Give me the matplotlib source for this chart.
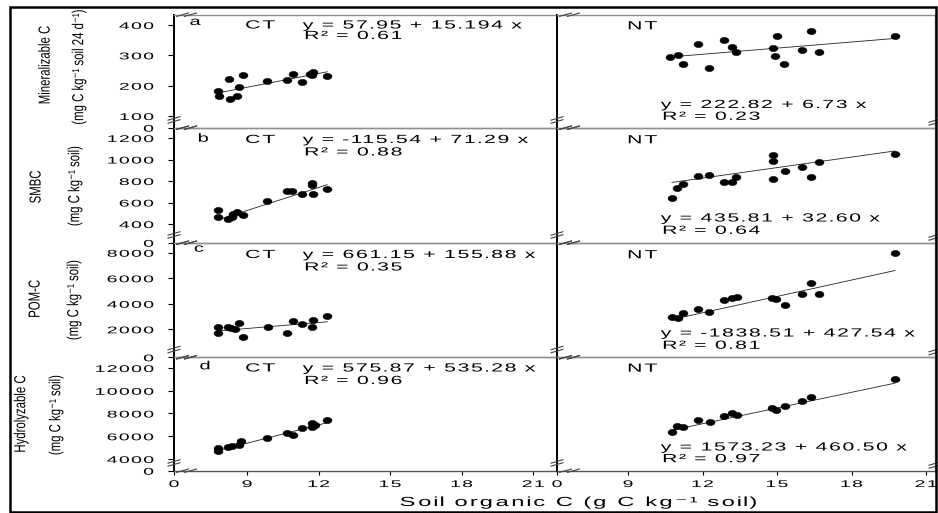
import numpy as np
import matplotlib
matplotlib.use("Agg")
import matplotlib.pyplot as plt
from matplotlib.path import Path
from matplotlib.patheffects import AbstractPathEffect
from matplotlib.lines import Line2D
from matplotlib.patches import Rectangle

plt.rcParams["font.family"] = ["Liberation Sans", "DejaVu Sans"]

# ---------------- data ----------------
# Mineralizable C (mg C kg-1 soil 24 d-1)
min_ct_x = [7.78, 7.82, 8.24, 8.83, 8.29, 8.58, 8.66, 9.84, 10.68, 10.93, 11.31, 11.65, 11.77, 11.73, 12.36]
min_ct_y = [182, 166, 222, 235, 156, 166, 196, 215, 219, 238, 212, 238, 245, 235, 232]
min_nt_x = [10.69, 11.01, 11.22, 11.82, 12.26, 12.87, 13.19, 13.35, 14.84, 15.00, 14.92, 15.28, 16.01, 16.37, 16.69, 19.75]
min_nt_y = [294, 301, 271, 337, 258, 351, 327, 311, 324, 364, 298, 271, 318, 380, 311, 364]

# SMBC (mg C kg-1 soil)
smbc_ct_x = [7.78, 7.78, 8.20, 8.37, 8.41, 8.58, 8.83, 9.84, 10.68, 10.89, 11.31, 11.73, 11.73, 11.77, 12.36]
smbc_ct_y = [530, 465, 447, 465, 493, 512, 484, 614, 707, 707, 679, 781, 763, 679, 726]
smbc_nt_x = [10.77, 10.97, 11.22, 11.82, 12.26, 12.87, 13.19, 13.35, 14.84, 14.84, 14.84, 15.32, 16.01, 16.37, 16.69, 19.75]
smbc_nt_y = [642, 735, 772, 847, 856, 791, 791, 837, 1042, 986, 819, 893, 930, 837, 977, 1051]

# POM-C (mg C kg-1 soil)
pom_ct_x = [7.78, 7.78, 8.20, 8.33, 8.50, 8.66, 8.83, 9.88, 10.68, 10.93, 11.31, 11.73, 11.77, 12.36]
pom_ct_y = [2180, 1710, 2180, 2102, 2024, 2494, 1394, 2180, 1710, 2651, 2416, 2180, 2729, 3042]
pom_nt_x = [10.77, 11.01, 11.22, 11.82, 12.26, 12.87, 13.19, 13.39, 14.80, 14.96, 15.32, 16.01, 16.37, 16.69, 19.75]
pom_nt_y = [2963, 2885, 3276, 3590, 3355, 4295, 4452, 4530, 4452, 4374, 3904, 4765, 5627, 4765, 8000]

# Hydrolyzable C (mg C kg-1 soil)
hyd_ct_x = [7.78, 7.78, 8.20, 8.37, 8.66, 8.75, 9.84, 10.68, 10.93, 11.31, 11.73, 11.73, 11.86, 12.36]
hyd_ct_y = [4967, 4703, 5055, 5143, 5231, 5582, 5846, 6286, 6110, 6725, 7165, 6813, 6989, 7429]
hyd_nt_x = [10.77, 10.97, 11.22, 11.82, 12.30, 12.87, 13.19, 13.39, 14.80, 14.96, 15.32, 16.01, 16.37, 19.75]
hyd_nt_y = [6374, 6901, 6813, 7429, 7253, 7780, 8044, 7868, 8484, 8308, 8659, 9099, 9451, 11033]

# linear fits: y = intercept + slope * x
ct_intercepts = [57.95, -115.54, 661.15, 575.87]
ct_slopes = [15.194, 71.29, 155.88, 535.28]
ct_r2 = [0.61, 0.88, 0.35, 0.96]
nt_intercepts = [222.82, 435.81, -1838.51, 1573.23]
nt_slopes = [6.73, 32.60, 427.54, 460.50]
nt_r2 = [0.23, 0.64, 0.81, 0.97]

panel_letters = ["a", "b", "c", "d"]
var_names = ["Mineralizable C", "SMBC", "POM-C", "Hydrolyzable C"]
var_units = ["(mg C kg\u207b\u00b9 soil 24 d\u207b\u00b9)", "(mg C kg\u207b\u00b9 soil)",
             "(mg C kg\u207b\u00b9 soil)", "(mg C kg\u207b\u00b9 soil)"]
row_yticks = [[100, 200, 300, 400], [400, 600, 800, 1000, 1200],
              [2000, 4000, 6000, 8000], [4000, 6000, 8000, 10000, 12000]]
row_ylims = [(61.4, 434), (226, 1296), (-193, 8783), (2971, 12941)]
x_ticks = [9, 12, 15, 18, 21]
col_xlims = [(5.93, 22.0), (6.14, 21.36)]
x_label = "Soil organic C (g C kg\u207b\u00b9 soil)"

ct_series = [(min_ct_x, min_ct_y), (smbc_ct_x, smbc_ct_y), (pom_ct_x, pom_ct_y), (hyd_ct_x, hyd_ct_y)]
nt_series = [(min_nt_x, min_nt_y), (smbc_nt_x, smbc_nt_y), (pom_nt_x, pom_nt_y), (hyd_nt_x, hyd_nt_y)]


# ---------------- helpers ----------------
class Spread(AbstractPathEffect):
    """Draw text with glyphs widened by g, glyph spacing widened by k,
    and glyph height scaled by sy."""

    def __init__(self, k=1.0, g=1.0, anchor="left", sy=1.0):
        super().__init__()
        self.k, self.g, self.anchor, self.sy = k, g, anchor, sy

    def draw_path(self, renderer, gc, tpath, affine, rgbFace=None):
        verts = np.array(tpath.vertices, dtype=float)
        codes = tpath.codes
        if codes is None or len(verts) == 0:
            renderer.draw_path(gc, tpath, affine, rgbFace)
            return
        real = codes != Path.CLOSEPOLY
        starts = np.flatnonzero(codes == Path.MOVETO)
        ends = np.append(starts[1:], len(verts))
        boxes = []
        for s, e in zip(starts, ends):
            m = real[s:e]
            xs = verts[s:e, 0][m]
            boxes.append((xs.min(), xs.max()))
        order = sorted(range(len(boxes)), key=lambda i: boxes[i][0])
        groups = []
        for i in order:
            lo, hi = boxes[i]
            if groups:
                glo, ghi, mem = groups[-1]
                ov = min(hi, ghi) - max(lo, glo)
                if ov > 0.3 * max(min(hi - lo, ghi - glo), 1e-9):
                    groups[-1] = (min(lo, glo), max(hi, ghi), mem + [i])
                    continue
            groups.append((lo, hi, [i]))
        rv = verts[real]
        xlo, xhi = rv[:, 0].min(), rv[:, 0].max()
        pivot = {"left": 0.0, "center": 0.5 * (xlo + xhi), "right": xhi}[self.anchor]
        out = verts.copy()
        for lo, hi, mem in groups:
            c = 0.5 * (lo + hi)
            nc = pivot + (c - pivot) * self.k
            for i in mem:
                s, e = starts[i], ends[i]
                out[s:e, 0] = nc + (verts[s:e, 0] - c) * self.g
        if self.sy != 1.0:
            cy = 0.5 * (rv[:, 1].min() + rv[:, 1].max())
            out[:, 1] = cy + (verts[:, 1] - cy) * self.sy
        renderer.draw_path(gc, Path(out, codes), affine, rgbFace)


W, H = 938, 513


def P(x, y):
    return x / W, 1 - y / H


def fmt(v):
    s = f"{v:.3f}".rstrip("0")
    dec = len(s.split(".")[1]) if "." in s else 0
    return f"{v:.{max(dec, 2)}f}"


def eq_text(a, b):
    return f"y = {fmt(a)} + {fmt(b)} x"


fig = plt.figure(figsize=(W / 100, H / 100), dpi=100)

col_px = [(174, 557), (557, 935)]
row_px = [(14.7, 127.7), (127.7, 242.7), (242.7, 357.3), (357.3, 470.7)]
grey = "#8f8f8f"
text_fx = [Spread(2.05, 1.8)]
tick_fx_y = [Spread(2.25, 2.0, "right")]
tick_fx_x = [Spread(2.25, 2.0, "center")]

marker_path = Path.unit_circle().transformed(matplotlib.transforms.Affine2D().scale(1.45, 1.0))

for r in range(4):
    y0, y1 = row_px[r]
    for c in range(2):
        x0, x1 = col_px[c]
        ax = fig.add_axes([x0 / W, 1 - y1 / H, (x1 - x0) / W, (y1 - y0) / H])
        ax.set_xlim(*col_xlims[c])
        ax.set_ylim(*row_ylims[r])
        ax.patch.set_alpha(0)

        xs, ys = (ct_series if c == 0 else nt_series)[r]
        a = (ct_intercepts if c == 0 else nt_intercepts)[r]
        b = (ct_slopes if c == 0 else nt_slopes)[r]
        ax.plot(xs, ys, linestyle="none", marker=marker_path, markersize=6.4,
                markeredgewidth=0.4, color="black", zorder=3)
        xl = np.array([min(xs), max(xs)])
        ax.plot(xl, a + b * xl, color="#222222", linewidth=0.6, zorder=2)

        ax.spines["left"].set(color="black", linewidth=1.4)
        ax.spines["top"].set(color=grey, linewidth=1.0)
        ax.spines["bottom"].set(color=("#555555" if r == 3 else grey), linewidth=1.0)
        ax.spines["right"].set(color=grey, linewidth=1.0, visible=(c == 1))

        if c == 0:
            lo = row_ylims[r][0]
            ax.set_yticks([lo] + row_yticks[r], ["0"] + [str(t) for t in row_yticks[r]])
            ax.tick_params(axis="y", direction="out", length=4.3, width=0.8,
                           pad=10, labelsize=7, colors="black")
            for t in ax.get_yticklabels():
                t.set_path_effects(tick_fx_y)
        else:
            ax.set_yticks([])

        if r == 3:
            lo = col_xlims[c][0]
            ax.set_xticks([lo] + x_ticks, ["0"] + [str(t) for t in x_ticks])
            ax.tick_params(axis="x", direction="out", length=3, width=0.8,
                           pad=3, labelsize=7, colors="black")
            for t in ax.get_xticklabels():
                t.set_path_effects(tick_fx_x)
        else:
            ax.set_xticks([])

# ---------------- axis break marks ----------------
def seg(xa, ya, xb, yb):
    (fa, ga), (fb, gb) = P(xa, ya), P(xb, yb)
    fig.add_artist(Line2D([fa, fb], [ga, gb], transform=fig.transFigure,
                          color="#444444", linewidth=0.8, zorder=10))


def hbreak(xc, yc):
    seg(xc - 10, yc + 1.7, xc + 2, yc - 1.7)
    seg(xc - 2, yc + 1.7, xc + 10, yc - 1.7)


def vbreak(xc, yc):
    seg(xc - 6, yc + 0.5, xc + 6, yc - 3)
    seg(xc - 6, yc + 3.5, xc + 6, yc)


for r in range(4):
    y0, y1 = row_px[r]
    for c in range(2):
        xs_ = col_px[c][0]
        hbreak(xs_ + 12.5, y0)
        hbreak(xs_ + 12.5, y1)
        vbreak(xs_, y1 - 8)
    vbreak(935, y1 - 6)

# ---------------- annotations ----------------
letter_xy = [(192, 25), (200, 141.7), (196, 251.7), (201.7, 369.3)]
ct_base = [28.5, 143, 258, 371.5]
ct_r2_base = [39, 155.5, 270.5, 384]
nt_base = [29.3, 143.3, 258.3, 371.7]
nt_eq_base = [108, 221.5, 336.5, 450.5]
nt_r2_base = [119.8, 233.8, 348.8, 462.2]

for r in range(4):
    fig.text(*P(*letter_xy[r]), panel_letters[r], fontsize=8.5, ha="left",
             va="baseline", path_effects=[Spread(1.0, 1.7)])
    fig.text(*P(244, ct_base[r]), "CT", fontsize=8.5, ha="left", va="baseline",
             path_effects=text_fx)
    fig.text(*P(302, ct_base[r]), eq_text(ct_intercepts[r], ct_slopes[r]),
             fontsize=8.5, ha="left", va="baseline", path_effects=text_fx)
    fig.text(*P(303, ct_r2_base[r]), f"R\u00b2 = {ct_r2[r]:.2f}", fontsize=8.5,
             ha="left", va="baseline", path_effects=text_fx)
    fig.text(*P(626, nt_base[r]), "NT", fontsize=8.5, ha="left", va="baseline",
             path_effects=text_fx)
    fig.text(*P(660, nt_eq_base[r]), eq_text(nt_intercepts[r], nt_slopes[r]),
             fontsize=8.5, ha="left", va="baseline", path_effects=text_fx)
    fig.text(*P(661, nt_r2_base[r]), f"R\u00b2 = {nt_r2[r]:.2f}", fontsize=8.5,
             ha="left", va="baseline", path_effects=text_fx)

# y-axis titles (two lines each)
name_xy = [(45, 65), (36, 187), (35, 299), (21, 414)]
unit_xy = [(79, 67), (75, 186), (74, 300), (56, 415)]
for r in range(4):
    fig.text(*P(*name_xy[r]), var_names[r], fontsize=8.2, rotation=90,
             ha="center", va="center", path_effects=[Spread(1.0, 1.0, sy=1.4)])
    fig.text(*P(*unit_xy[r]), var_units[r], fontsize=8.2, rotation=90,
             ha="center", va="center", path_effects=[Spread(1.0, 1.0, sy=1.4)])

fig.text(*P(398, 506), x_label, fontsize=9.5, ha="left", va="baseline",
         path_effects=[Spread(2.15, 1.8)])

# outer frame
fx0, fy1 = P(9.5, 7.5)
fx1, fy0 = P(936, 511.5)
fig.add_artist(Rectangle((fx0, fy0), fx1 - fx0, fy1 - fy0, transform=fig.transFigure,
                         fill=False, edgecolor="black", linewidth=1.8, zorder=20))

fig.savefig("out.png", dpi=100)
